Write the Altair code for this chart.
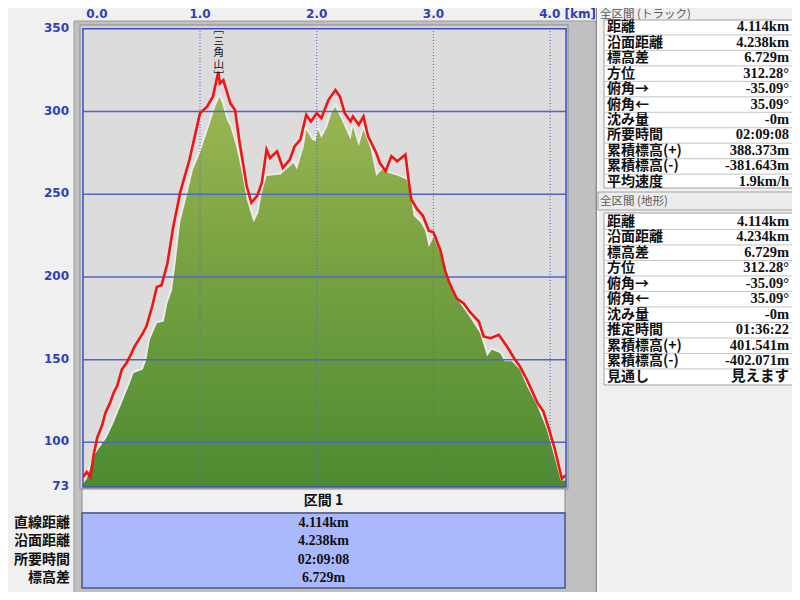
import altair as alt
import pandas as pd

# ---------------- data ----------------
track_km = [0.00, 0.03, 0.06, 0.09, 0.12, 0.16, 0.19, 0.23, 0.26, 0.29,
            0.33, 0.37, 0.40, 0.44, 0.51, 0.54, 0.59, 0.63, 0.67, 0.72,
            0.77, 0.83, 0.91, 1.00, 1.06, 1.11, 1.157, 1.17, 1.20, 1.26,
            1.30, 1.34, 1.40, 1.44, 1.49, 1.53, 1.57, 1.60, 1.66, 1.71,
            1.77, 1.81, 1.86, 1.91, 1.95, 2.00, 2.04, 2.10, 2.16, 2.20,
            2.24, 2.29, 2.31, 2.36, 2.40, 2.44, 2.51, 2.54, 2.59, 2.64,
            2.69, 2.76, 2.79, 2.81, 2.86, 2.91, 2.96, 3.00, 3.06, 3.10,
            3.14, 3.20, 3.26, 3.31, 3.39, 3.43, 3.49, 3.56, 3.63, 3.69,
            3.74, 3.80, 3.89, 3.94, 3.99, 4.04, 4.10, 4.13]
track_elev = [79, 82, 79, 93, 103, 110, 118, 124, 130, 134,
              144, 148, 152, 158, 166, 170, 182, 194, 195, 208,
              230, 251, 271, 299, 303, 309, 324, 317, 319, 305,
              301, 281, 255, 245, 249, 257, 277, 272, 276, 266,
              271, 279, 283, 298, 294, 299, 296, 307, 313, 309,
              299, 294, 297, 292, 297, 285, 275, 269, 264, 273,
              270, 274, 257, 247, 241, 237, 228, 227, 216, 204,
              196, 187, 184, 179, 173, 164, 163, 165, 158, 151,
              146, 138, 124, 119, 108, 96, 78, 80]

terrain_km = [0.00, 0.03, 0.10, 0.14, 0.20, 0.26, 0.33, 0.40, 0.43, 0.47,
              0.51, 0.54, 0.57, 0.63, 0.69, 0.72, 0.76, 0.79, 0.83, 0.89,
              0.94, 1.00, 1.09, 1.13, 1.167, 1.19, 1.23, 1.26, 1.31, 1.36,
              1.40, 1.46, 1.50, 1.53, 1.57, 1.69, 1.77, 1.80, 1.83, 1.89,
              1.91, 1.96, 1.99, 2.01, 2.04, 2.09, 2.13, 2.16, 2.20, 2.24,
              2.29, 2.31, 2.36, 2.40, 2.46, 2.51, 2.56, 2.61, 2.70, 2.77,
              2.80, 2.83, 2.89, 2.93, 2.96, 3.00, 3.06, 3.10, 3.16, 3.23,
              3.31, 3.40, 3.46, 3.50, 3.57, 3.61, 3.67, 3.74, 3.80, 3.89,
              3.97, 4.03, 4.09, 4.135]
terrain_elev = [75, 78, 93, 97, 103, 112, 124, 136, 142, 143,
                144, 150, 162, 172, 173, 184, 192, 208, 233, 250,
                265, 275, 294, 303, 309, 305, 295, 291, 279, 263,
                247, 233, 239, 251, 261, 262, 267, 269, 265, 279,
                289, 283, 282, 289, 284, 291, 300, 303, 297, 291,
                283, 291, 279, 289, 278, 261, 265, 263, 261, 259,
                251, 237, 233, 228, 218, 224, 214, 204, 192, 184,
                176, 166, 152, 156, 154, 149, 149, 144, 134, 122,
                108, 93, 77, 77]

elev_labels = [73, 100, 150, 200, 250, 300, 350]
elev_grid = [100, 150, 200, 250, 300]
dist_ticks = [0, 1, 2, 3, 4]
dist_labels = ["0.0", "1.0", "2.0", "3.0", "4.0 [km]"]

peak_name = "三角山"
peak_km = 1.16

track_title = "全区間 (トラック)"
track_stat_names = ["距離", "沿面距離", "標高差", "方位", "俯角→", "俯角←",
                    "沈み量", "所要時間", "累積標高(+)", "累積標高(-)", "平均速度"]
track_stat_values = ["4.114km", "4.238km", "6.729m", "312.28°", "-35.09°",
                     "35.09°", "-0m", "02:09:08", "388.373m", "-381.643m",
                     "1.9km/h"]

terrain_title = "全区間 (地形)"
terrain_stat_names = ["距離", "沿面距離", "標高差", "方位", "俯角→", "俯角←",
                      "沈み量", "推定時間", "累積標高(+)", "累積標高(-)", "見通し"]
terrain_stat_values = ["4.114km", "4.234km", "6.729m", "312.28°", "-35.09°",
                       "35.09°", "-0m", "01:36:22", "401.541m", "-402.071m",
                       "見えます"]

section_title = "区間 1"
section_names = ["直線距離", "沿面距離", "所要時間", "標高差"]
section_values = ["4.114km", "4.238km", "02:09:08", "6.729m"]

# ---------------- styling ----------------
CJK = "Noto Sans CJK JP"
SERIF = "'Liberation Serif', 'Noto Sans CJK JP'"
SANS = "DejaVu Sans"
BLUE_TXT = "#2f3fb5"

X_MAIN = alt.Scale(domain=[0, 4.135], range=[75.3, 557.9], nice=False, zero=False)
Y_MAIN = alt.Scale(domain=[73, 350], range=[479, 20.9], nice=False, zero=False)
ONE = pd.DataFrame({"k": [0]})


def xq(f):
    return alt.X(f"{f}:Q", scale=X_MAIN, axis=None)


def yq(f):
    return alt.Y(f"{f}:Q", scale=Y_MAIN, axis=None)


def rect(x, y, x2, y2, **style):
    return alt.Chart(ONE).mark_rect(**style).encode(
        x=alt.value(x), x2=alt.value(x2), y=alt.value(y), y2=alt.value(y2))


def vrule(x, y, y2, **style):
    return alt.Chart(ONE).mark_rule(**style).encode(
        x=alt.value(x), y=alt.value(y), y2=alt.value(y2))


def text_at(x, y, txt, **style):
    return alt.Chart(pd.DataFrame({"t": [txt]})).mark_text(**style).encode(
        x=alt.value(x), y=alt.value(y), text="t:N")


def stat_table(names, values, y0, y1, x_lab, x_val, lab_style, val_style,
               sep=None):
    n = len(names)
    ysc = alt.Scale(domain=[0, n - 1], range=[y0, y1], nice=False, zero=False)
    df = pd.DataFrame({"i": list(range(n)), "name": names, "value": values})
    base = alt.Chart(df).encode(y=alt.Y("i:Q", scale=ysc, axis=None))
    layers = []
    if sep is not None:
        sdf = pd.DataFrame({"s": [i + 0.5 for i in range(n - 1)]})
        layers.append(alt.Chart(sdf).mark_rule(color="#c4c4c4", strokeWidth=1).encode(
            y=alt.Y("s:Q", scale=ysc, axis=None),
            x=alt.value(sep[0]), x2=alt.value(sep[1])))
    layers.append(base.mark_text(**lab_style).encode(x=alt.value(x_lab), text="name:N"))
    layers.append(base.mark_text(**val_style).encode(x=alt.value(x_val), text="value:N"))
    return layers


track_df = pd.DataFrame({"km": track_km, "elev": track_elev})
terrain_df = pd.DataFrame({"km": terrain_km, "elev": terrain_elev})

layers = []

# frame
layers.append(rect(66, 13, 588, 590, fill="#c0c0c0", stroke="#9a9a9a", strokeWidth=1))
layers.append(vrule(588.5, 0, 584, color="#8a8a8a", strokeWidth=1))
layers.append(vrule(590, 0, 584, color="#ffffff", strokeWidth=1))
layers.append(rect(72, 17, 560, 481, fill="#d2d2d2", stroke="#8a8a8a", strokeWidth=1))
layers.append(rect(75, 20, 558, 479, fill="#dcdcdc"))

# terrain profile
layers.append(alt.Chart(terrain_df).mark_line(color="#ececec", strokeWidth=4).encode(
    x=xq("km"), y=yq("elev")))
layers.append(alt.Chart(terrain_df).mark_area(
    color=alt.Gradient(
        gradient="linear",
        stops=[alt.GradientStop(color="#9db754", offset=0),
               alt.GradientStop(color="#7ea544", offset=0.35),
               alt.GradientStop(color="#4c8b31", offset=1)],
        x1=1, x2=1, y1=0, y2=1)).encode(
    x=xq("km"), y=yq("elev"), y2=alt.datum(73)))

# grid
layers.append(alt.Chart(pd.DataFrame({"g": elev_grid})).mark_rule(
    color="#4f66c6", strokeWidth=1.5).encode(
    y=yq("g"), x=alt.value(75), x2=alt.value(558)))
layers.append(alt.Chart(pd.DataFrame({"d": dist_ticks[1:]})).mark_rule(
    color="#5466c8", strokeWidth=1, strokeDash=[1, 2]).encode(
    x=xq("d"), y=alt.value(20), y2=alt.value(479)))
layers.append(rect(75, 20.7, 558, 479, fillOpacity=0, stroke="#3e4fc4", strokeWidth=1.5))

# track line
layers.append(alt.Chart(track_df).mark_line(color="#f01414", strokeWidth=2.6).encode(
    x=xq("km"), y=yq("elev")))

# peak label (vertical, one glyph per row)
peak_chars = ["﹇", *peak_name, "﹈"]
pk = pd.DataFrame({"km": [peak_km] * len(peak_chars),
                   "i": list(range(len(peak_chars))), "t": peak_chars})
pk_scale = alt.Scale(domain=[0, len(peak_chars) - 1], range=[22, 68], nice=False, zero=False)
layers.append(alt.Chart(pk).mark_text(
    font=CJK, fontSize=10.5, baseline="middle", align="center", color="#111111").encode(
    x=xq("km"), y=alt.Y("i:Q", scale=pk_scale, axis=None), text="t:N"))

# axis labels
layers.append(alt.Chart(pd.DataFrame({"v": elev_labels})).mark_text(
    font=SANS, fontSize=12, fontWeight="bold", color=BLUE_TXT, align="right",
    baseline="middle", dy=-1).encode(
    y=yq("v"), x=alt.value(61), text=alt.Text("v:Q", format="d")))
xl = pd.DataFrame({"d": dist_ticks, "t": dist_labels})
xstyle = dict(font=SANS, fontSize=12, fontWeight="bold", color=BLUE_TXT, baseline="middle")
layers.append(alt.Chart(xl.iloc[:1]).mark_text(align="left", dx=3, **xstyle).encode(
    x=xq("d"), y=alt.value(5.5), text="t:N"))
layers.append(alt.Chart(xl.iloc[1:-1]).mark_text(align="center", **xstyle).encode(
    x=xq("d"), y=alt.value(5.5), text="t:N"))
layers.append(alt.Chart(xl.iloc[-1:]).mark_text(align="left", dx=-11, **xstyle).encode(
    x=xq("d"), y=alt.value(5.5), text="t:N"))

# bottom section table
layers.append(rect(74, 481, 557, 505, fill="#f0f0f0", stroke="#8a8a8a", strokeWidth=1))
layers.append(rect(74, 505, 557, 580, fill="#a9b9fb", stroke="#4b5783", strokeWidth=1.5))
layers.append(text_at(315.5, 493, section_title, font=CJK, fontSize=14,
                      fontWeight="bold", align="center", baseline="middle", color="#111111"))
layers += stat_table(section_names, section_values, 514.5, 570.3, 62, 315.5,
                     dict(font=CJK, fontSize=14, fontWeight="bold", align="right",
                          baseline="middle", color="#111111"),
                     dict(font=SERIF, fontSize=14, fontWeight="bold", align="center",
                          baseline="middle", color="#111111"))

# right panel
hdr_style = dict(font=CJK, fontSize=11.5, align="left", baseline="middle", color="#5a5a5a")
lab_style = dict(font=CJK, fontSize=14, fontWeight="bold", align="left",
                 baseline="middle", color="#111111")
val_style = dict(font=SERIF, fontSize=14.5, fontWeight="bold", align="right",
                 baseline="middle", color="#111111")
layers.append(text_at(592, 6.5, track_title, **hdr_style))
layers.append(rect(596, 12, 790, 180, fill="#ffffff", stroke="#a0a0a0", strokeWidth=1))
layers += stat_table(track_stat_names, track_stat_values, 19.2, 173.9, 599, 781,
                     lab_style, val_style, sep=(596, 790))
layers.append(rect(590, 184, 790, 202, fill="#ececec", stroke="#a0a0a0", strokeWidth=1))
layers.append(text_at(592, 193.5, terrain_title, **hdr_style))
layers.append(rect(596, 205, 790, 377, fill="#ffffff", stroke="#a0a0a0", strokeWidth=1))
layers += stat_table(terrain_stat_names, terrain_stat_values, 213.7, 368.7, 599, 781,
                     lab_style, val_style, sep=(596, 790))

chart = alt.layer(*layers).resolve_scale(x="independent", y="independent").properties(
    width=784, height=584, padding=0,
    autosize=alt.AutoSizeParams(type="none"),
    background="#f0f0f0",
).configure_view(stroke=None)

chart.save("out.html", embed_options={"renderer": "svg", "actions": False})
